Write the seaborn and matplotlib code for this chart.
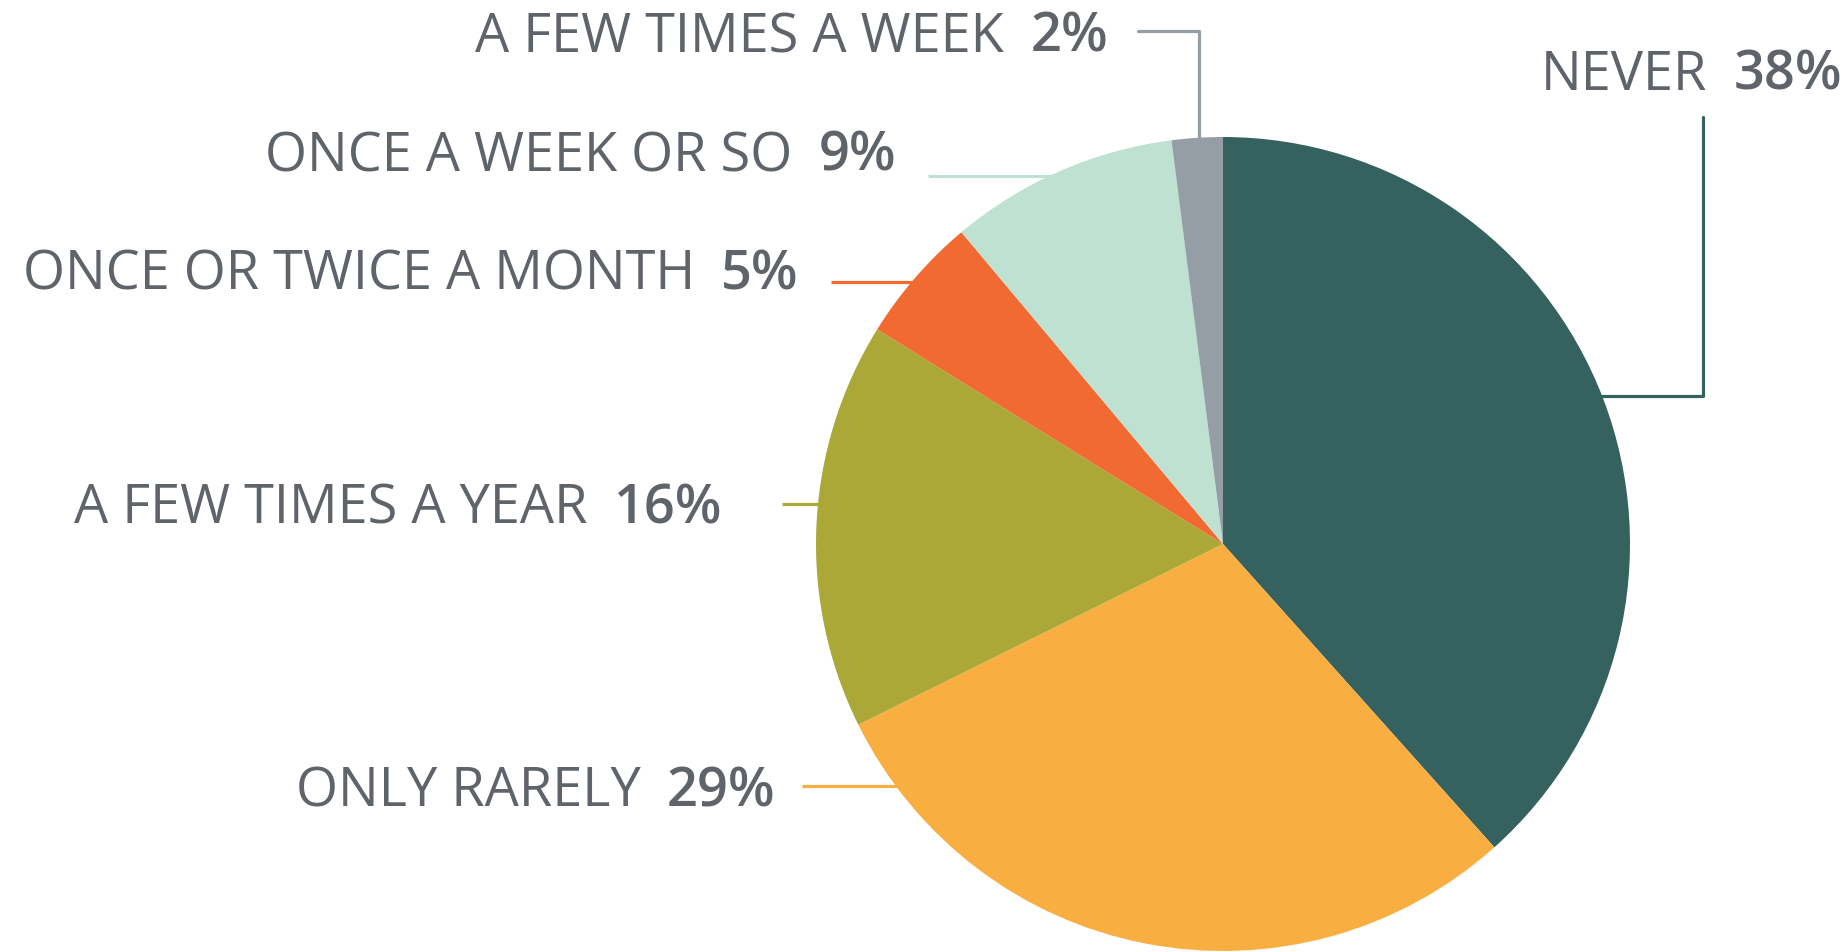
import matplotlib
matplotlib.use("Agg")
import matplotlib.pyplot as plt
import numpy as np
import seaborn as sns

# survey answers, clockwise from 12 o'clock
categories = ["NEVER", "ONLY RARELY", "A FEW TIMES A YEAR",
              "ONCE OR TWICE A MONTH", "ONCE A WEEK OR SO", "A FEW TIMES A WEEK"]
shares = [38, 29, 16, 5, 9, 2]
pct_labels = ["38%", "29%", "16%", "5%", "9%", "2%"]
colors = ["#35615F", "#F9AE42", "#ABA837", "#F06A31", "#BFE1D1", "#969EA5"]

TEXT = "#5F636A"
FONT = "Open Sans"

sns.set_theme(style="white")
plt.rcParams["font.family"] = [FONT, "DejaVu Sans"]

W, H, DPI = 1849, 953, 100
fig = plt.figure(figsize=(W / DPI, H / DPI), dpi=DPI)
ax = fig.add_axes([0, 0, 1, 1])

# pie of radius 1 at the origin; 1 data unit = R px
CX, CY, R = 1223, 545, 407

ax.pie(shares, colors=colors, startangle=90, counterclock=False,
       radius=1, center=(0, 0), frame=True,
       wedgeprops=dict(linewidth=0))
ax.set_xlim(-CX / R, (W - CX) / R)
ax.set_ylim((CY - H) / R, CY / R)
ax.set_aspect("equal")
ax.axis("off")


def px(x, y):
    return (x - CX) / R, (CY - y) / R


def label(i, x_right, y_txt, size=39):
    xr, yr = px(x_right, y_txt)
    t = ax.text(xr, yr, pct_labels[i], ha="right", va="center_baseline",
                fontsize=size, fontweight="semibold", color=TEXT)
    fig.canvas.draw()
    bb = t.get_window_extent().transformed(ax.transData.inverted())
    ax.text(bb.x0 - 26 / R, yr, categories[i], ha="right", va="center_baseline",
            fontsize=size, fontweight="normal", color=TEXT)


# left-side labels with horizontal leaders to the pie edge
left = [  # index, text right px, text y px, leader start px, leader y px
    (1, 775, 786, 802, 787),
    (2, 722, 503, 782, 505),
    (3, 799, 269, 831, 283),
    (4, 896, 150, 928, 177),
]
for i, xr, yt, x0, yl in left:
    label(i, xr, yt)
    _, y = px(0, yl)
    edge = -np.sqrt(1 - y ** 2)
    ax.plot([px(x0, 0)[0], edge + 0.02], [y, y], color=colors[i], lw=2.3,
            solid_capstyle="butt", zorder=0)

# a few times a week: elbow down to the top of the pie
label(5, 1108, 31)
xa, ya = px(1138, 32)
xv, _ = px(1199, 0)
ax.plot([xa, xv, xv], [ya, ya, np.sqrt(1 - xv ** 2)], color=colors[5], lw=2.3,
        zorder=0)

# never: elbow from right edge up to the label
label(0, 1842, 69)
_, yn = px(0, 397)
xe, _ = px(1703, 0)
_, ytop = px(0, 118)
ax.plot([np.sqrt(1 - yn ** 2) - 0.02, xe, xe], [yn, yn, ytop], color=colors[0],
        lw=2.3, zorder=0)

fig.savefig("out.png", dpi=DPI, facecolor="white")
